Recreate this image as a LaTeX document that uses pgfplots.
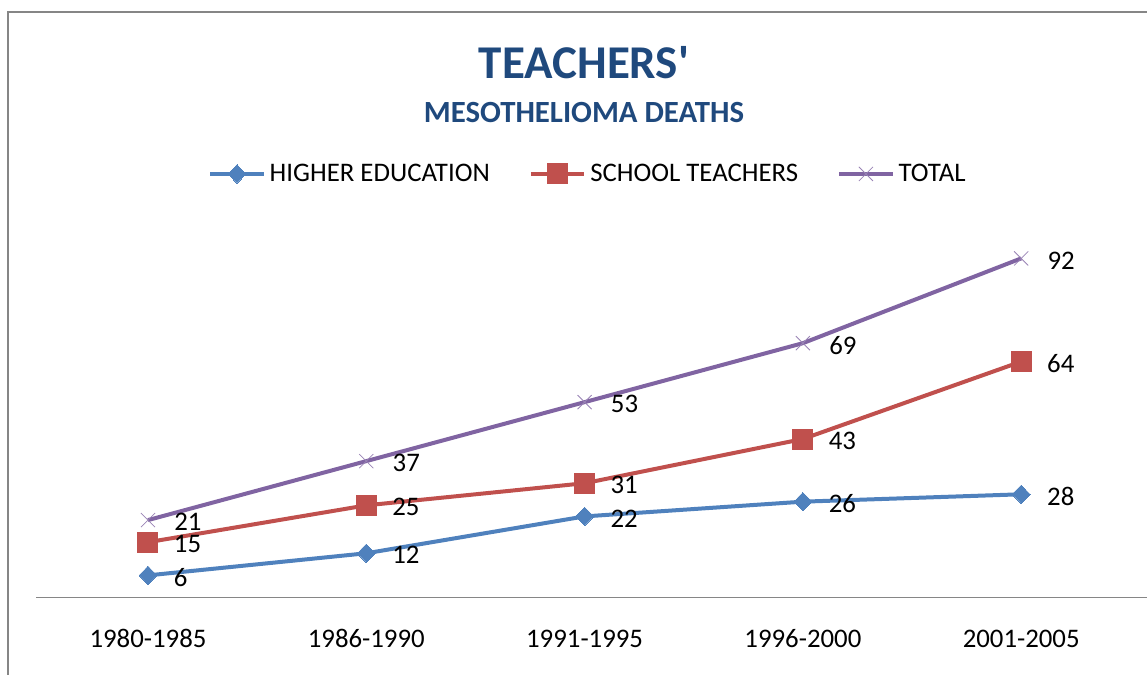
\documentclass[border=0pt]{standalone}
\usepackage{pgfplots}
\pgfplotsset{compat=1.18}
\usepackage{fontspec}
\setmainfont{Carlito}
\newfontfamily\titlefont{Carlito}
\definecolor{sblue}{HTML}{4F81BD}
\definecolor{sred}{HTML}{C0504D}
\definecolor{spurple}{HTML}{8064A2}
\definecolor{ttl}{HTML}{1F497D}
\definecolor{bord}{HTML}{868686}
\begin{document}
\begin{tikzpicture}
\begin{axis}[
  at={(18pt,38.75pt)}, anchor=south west,
  scale only axis,
  width=569.0pt, height=184.3pt,
  xmin=-0.513, xmax=4.7,
  ymin=0, ymax=100,
  axis y line=none,
  axis x line*=bottom,
  x axis line style={draw=bord, line width=0.6pt, -},
  xtick={0,1,2,3,4},
  xticklabels={1980-1985,1986-1990,1991-1995,1996-2000,2001-2005},
  major tick length=0pt,
  xticklabel style={anchor=base, yshift=-25pt, font=\fontsize{13.4}{16}\selectfont},
  /pgf/number format/assume math mode=true,
  clip=false,
  line width=2pt,
  nodes near coords,
  every node near coord/.append style={anchor=west, inner sep=0pt, xshift=13pt, yshift=-1pt, black, font=\fontsize{13.4}{16}\selectfont},
  legend columns=3,
  legend image code/.code={\draw[mark repeat=2,mark phase=2] plot coordinates {(0cm,0cm) (0.47cm,0cm) (0.94cm,0cm)};},
  legend style={at={(0.5,1)}, anchor=center, yshift=27.5pt, xshift=-8pt, draw=none, fill=none,
    font=\fontsize{13.4}{16}\selectfont,
    /tikz/every even column/.append style={column sep=17.5pt}},
]
\addplot[color=sblue, mark=diamond*, mark size=4.6pt, mark options={line width=0pt, xscale=1.3}] coordinates {(0,6) (1,12) (2,22) (3,26) (4,28)};
\addlegendentry{HIGHER EDUCATION}
\addplot[color=sred, mark=square*, mark size=5pt, mark options={line width=0pt}] coordinates {(0,15) (1,25) (2,31) (3,43) (4,64)};
\addlegendentry{SCHOOL TEACHERS}
\addplot[color=spurple, mark=x, mark size=5pt, mark options={line width=0.4pt, color=spurple!80}] coordinates {(0,21) (1,37) (2,53) (3,69) (4,92)};
\addlegendentry{TOTAL}
\end{axis}
\node[font=\titlefont\fontsize{23.5}{28}\selectfont\bfseries, text=ttl] at (292pt,306pt) {TEACHERS'};
\node[font=\titlefont\fontsize{15.4}{18}\selectfont\bfseries, text=ttl] at (292pt,281pt) {MESOTHELIOMA DEATHS};
\draw[bord, line width=1pt] (4pt,-20pt) -- (4pt,331.5pt) -- (620pt,331.5pt);
\pgfresetboundingbox
\useasboundingbox (0,0) rectangle (573.5pt,337.5pt);
\end{tikzpicture}
\end{document}
